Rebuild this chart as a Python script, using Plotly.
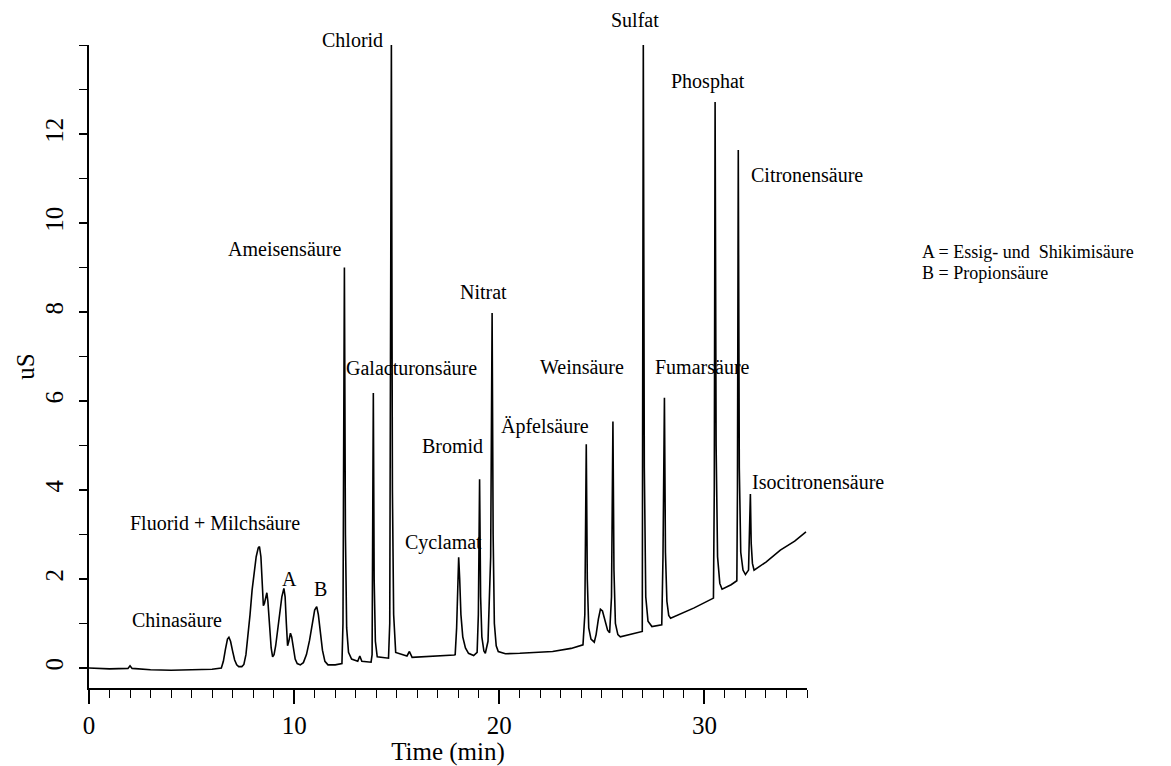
import plotly.graph_objects as go

# ---- chromatogram trace (time in min, conductivity in uS)
time_min = [
    -0.75, 0.0, 1.0, 1.9, 2.0, 2.1, 3.0, 4.0, 5.0, 6.0, 6.45,
    6.55, 6.65, 6.75, 6.82, 6.9, 7.0, 7.1, 7.2, 7.3, 7.45,
    7.55, 7.65, 7.75, 7.85, 7.95, 8.05, 8.15, 8.25, 8.31, 8.38,
    8.45, 8.5, 8.55, 8.62, 8.67, 8.72, 8.8, 8.88, 8.95, 9.02,
    9.1, 9.2, 9.3, 9.4, 9.5, 9.56, 9.62, 9.68, 9.74, 9.82,
    9.88, 9.95, 10.05, 10.15, 10.3, 10.45, 10.6, 10.75, 10.9, 11.0,
    11.1, 11.18, 11.28, 11.38, 11.5, 11.65, 12.0, 12.33,
    12.38, 12.45, 12.5, 12.56, 12.65, 12.8, 13.1, 13.2, 13.3, 13.75,
    13.8, 13.86, 13.9, 13.96, 14.05, 14.6,
    14.66, 14.74, 14.79, 14.85, 14.95, 15.5, 15.62, 15.75, 17.8,
    17.85, 17.92, 17.97, 18.02, 18.07, 18.13, 18.22, 18.35, 18.5, 18.75, 18.92,
    18.98, 19.04, 19.09, 19.15, 19.25, 19.32, 19.45,
    19.58, 19.65, 19.7, 19.76, 19.85, 19.95, 20.3, 21.0, 22.6, 23.5, 24.08,
    24.17, 24.24, 24.29, 24.36, 24.47, 24.63,
    24.72, 24.83, 24.93, 25.03, 25.15, 25.28, 25.38,
    25.47, 25.54, 25.59, 25.66, 25.78, 25.9, 26.5, 26.97,
    27.02, 27.07, 27.14, 27.25, 27.44, 27.92,
    27.98, 28.05, 28.1, 28.17, 28.26, 28.35, 29.5, 30.44,
    30.48, 30.52, 30.57, 30.64, 30.75, 30.86, 31.3, 31.58,
    31.61, 31.65, 31.7, 31.77, 31.88, 32.0, 32.15,
    32.2, 32.24, 32.28, 32.34, 32.42, 33.0, 33.7, 34.4, 34.95,
]
signal_us = [
    0.0, 0.0, -0.02, -0.01, 0.05, -0.01, -0.04, -0.05, -0.04, -0.03, 0.0,
    0.15, 0.42, 0.65, 0.69, 0.6, 0.38, 0.18, 0.07, 0.03, 0.03,
    0.08, 0.3, 0.7, 1.2, 1.75, 2.2, 2.5, 2.7, 2.73, 2.5,
    1.9, 1.4, 1.45, 1.65, 1.69, 1.5, 0.95, 0.45, 0.25, 0.3,
    0.5, 0.85, 1.25, 1.6, 1.79, 1.6, 1.0, 0.5, 0.6, 0.78,
    0.7, 0.45, 0.2, 0.1, 0.07, 0.12, 0.3, 0.62, 1.05, 1.3,
    1.38, 1.2, 0.8, 0.4, 0.15, 0.07, 0.07, 0.1,
    1.0, 9.0, 3.0, 0.9, 0.35, 0.2, 0.15, 0.27, 0.15, 0.13,
    0.3, 6.18, 2.0, 0.6, 0.25, 0.22,
    1.0, 14.0, 4.0, 1.2, 0.35, 0.27, 0.37, 0.24, 0.29,
    0.3, 0.9, 1.9, 2.49, 2.0, 1.2, 0.7, 0.45, 0.33, 0.28, 0.35,
    1.2, 4.24, 1.6, 0.7, 0.38, 0.33, 0.6,
    2.5, 7.98, 3.0, 1.0, 0.5, 0.37, 0.32, 0.33, 0.37, 0.44, 0.52,
    1.2, 5.03, 2.0, 0.9, 0.65, 0.58,
    0.75, 1.1, 1.32, 1.28, 1.05, 0.85, 0.79,
    1.6, 5.54, 2.2, 1.0, 0.75, 0.7, 0.76, 0.82,
    14.1, 4.5, 1.6, 1.05, 0.93, 0.97,
    2.5, 6.07, 2.6, 1.5, 1.18, 1.12, 1.35, 1.57,
    4.0, 12.72, 5.0, 2.5, 1.9, 1.77, 1.87, 1.96,
    4.0, 11.64, 4.5, 2.6, 2.2, 2.1, 2.2,
    3.0, 3.91, 2.8, 2.35, 2.2, 2.38, 2.65, 2.85, 3.06,
]

# ---- axis ticks
x_tick_values = [0, 10, 20, 30]
x_tick_labels = ["0", "10", "20", "30"]
y_tick_values = [0, 2, 4, 6, 8, 10, 12]
y_tick_labels = ["0", "2", "4", "6", "8", "10", "12"]

# ---- peak labels
peak_labels = ["Ameisensäure", "Galacturonsäure", "Phosphat", "Citronensäure",
               "Nitrat", "Bromid", "Äpfelsäure", "Weinsäure", "Fumarsäure",
               "Cyclamat", "Isocitronensäure", "Fluorid + Milchsäure", "A", "B",
               "Chinasäure"]
peak_label_x = [12.39, 12.44, 30.15, 32.15, 19.22, 19.32, 20.0, 21.9, 27.51,
                15.32, 32.24, 1.9, 9.76, 11.27, 2.0]
peak_label_y = [9.42, 6.74, 13.19, 11.08, 8.45, 4.99, 5.42, 6.76, 6.76,
                2.81, 4.18, 3.26, 2.0, 1.78, 1.08]
peak_label_anchor = ["right", "left", "center", "left", "center", "right", "left",
                     "left", "left", "left", "left", "left", "center", "center", "left"]

# labels above the top of the axis (placed relative to paper height)
top_labels = ["Chlorid", "Sulfat"]
top_label_x = [14.44, 26.63]
top_label_paper_y = [1.008, 1.039]
top_label_anchor = ["right", "center"]

key_lines = ["A = Essig- und\u00a0 Shikimisäure", "B = Propionsäure"]

FONT = "Liberation Serif"

fig = go.Figure()
fig.add_trace(go.Scatter(
    x=time_min, y=signal_us, mode="lines",
    line=dict(color="black", width=1.6),
    cliponaxis=False, showlegend=False, hoverinfo="skip",
))

annotations = []
for txt, x, y, a in zip(peak_labels, peak_label_x, peak_label_y, peak_label_anchor):
    annotations.append(dict(text=txt, x=x, y=y, xref="x", yref="y",
                            xanchor=a, yanchor="middle", showarrow=False,
                            font=dict(family=FONT, size=20, color="black")))
for txt, x, y, a in zip(top_labels, top_label_x, top_label_paper_y, top_label_anchor):
    annotations.append(dict(text=txt, x=x, y=y, xref="x", yref="paper",
                            xanchor=a, yanchor="middle", showarrow=False,
                            font=dict(family=FONT, size=20, color="black")))
for i, txt in enumerate(key_lines):
    annotations.append(dict(text=txt, x=1.158, y=0.678 - 0.0325 * i,
                            xref="paper", yref="paper", xanchor="left",
                            yanchor="middle", showarrow=False,
                            font=dict(family=FONT, size=18, color="black")))

fig.update_layout(
    width=1171, height=766,
    margin=dict(l=89, r=364, t=45, b=78),
    paper_bgcolor="white", plot_bgcolor="white",
    font=dict(family=FONT, color="black"),
    annotations=annotations,
    xaxis=dict(
        range=[0, 35], showgrid=False, zeroline=False,
        showline=True, linecolor="black", linewidth=1.5,
        tickmode="array", tickvals=x_tick_values, ticktext=x_tick_labels,
        ticks="outside", ticklen=14, tickwidth=1.5, tickcolor="black",
        minor=dict(dtick=1, ticks="outside", ticklen=8, tickwidth=1.2,
                   tickcolor="black", showgrid=False),
        tickfont=dict(family=FONT, size=25, color="black"),
        ticklabelstandoff=0,
        title=dict(text="Time (min)", font=dict(family=FONT, size=25, color="black"),
                   standoff=5),
        automargin=False,
    ),
    yaxis=dict(
        range=[-0.45, 14.0], showgrid=False, zeroline=False,
        showline=True, linecolor="black", linewidth=1.5,
        tickmode="array", tickvals=y_tick_values, ticktext=y_tick_labels,
        ticks="outside", ticklen=8, tickwidth=1.5, tickcolor="black",
        minor=dict(dtick=1, ticks="outside", ticklen=8, tickwidth=1.2,
                   tickcolor="black", showgrid=False),
        tickangle=-90,
        tickfont=dict(family=FONT, size=25, color="black"),
        ticklabelstandoff=6,
        title=dict(text="uS", font=dict(family=FONT, size=25, color="black"),
                   standoff=0),
        automargin=False,
    ),
)

# remove the default 8 px page margin so the figure fills the window exactly
fig.write_html("out.html",
               config={"displayModeBar": False},
               post_script="document.body.style.margin='0px';document.body.style.overflow='hidden';")
